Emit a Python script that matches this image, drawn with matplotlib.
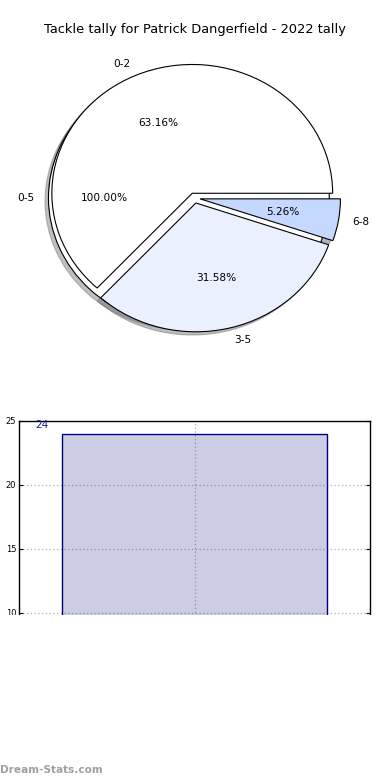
import matplotlib
matplotlib.use("Agg")
import matplotlib.pyplot as plt
from matplotlib.patches import Rectangle

# ---- data ----
title = "Tackle tally for Patrick Dangerfield - 2022 tally"
outer_labels = ["0-5"]
outer_values = [18]
inner_labels = ["0-2", "3-5", "6-8"]
inner_values = [12, 6, 1]
bar_categories = ["2022"]
bar_values = [24]
y_ticks = [10, 15, 20, 25]

W, H = 390, 780
fig = plt.figure(figsize=(W / 100, H / 100), dpi=100)

def ax_rect(x0, y_top, x1, y_bot):
    return [x0 / W, 1 - y_bot / H, (x1 - x0) / W, (y_bot - y_top) / H]

# ---- pie axes ----
ax = fig.add_axes(ax_rect(19, 37, 370, 359))
wp = dict(edgecolor="black", linewidth=0.8)
tp = dict(fontsize=7.6)
shadow = dict(ox=-0.018, oy=-0.018, shade=0.55, alpha=0.45)
ax.pie(outer_values, labels=outer_labels, colors=["white"], explode=[0.04],
       autopct="%.2f%%", shadow=shadow, wedgeprops=wp, textprops=tp)
ax.pie(inner_values, labels=inner_labels,
       colors=["white", "#EAF0FD", "#C5D8FF"], explode=[0.04, 0.04, 0.04],
       autopct="%.2f%%", shadow=shadow, wedgeprops=wp, textprops=tp)
ax.set_aspect("auto")
ax.set_xlim(-1.25, 1.25)
ax.set_ylim(-1.25, 1.25)
fig.text(0.5, 1 - 30 / H, title, ha="center", va="center", fontsize=9.4)

# ---- bar axes (lower part of the original panel is cut off at y=614) ----
bx = fig.add_axes(ax_rect(19, 421, 370, 616))
xs = list(range(len(bar_categories)))
bx.bar(xs, bar_values, width=0.8, facecolor=(0, 0, 0.5, 0.2),
       edgecolor="navy", linewidth=1.0, zorder=2)
for x, v in zip(xs, bar_values):
    bx.text(x - 0.462, v + 0.69, str(v), ha="center", va="center",
            fontsize=7.5, color="#1f1f9a")
bx.set_xlim(-0.5318, 0.5318)
bx.set_ylim(25 - 195 / 12.8, 25)
bx.set_yticks(y_ticks)
bx.set_xticks(xs)
bx.set_xticklabels([])
bx.tick_params(axis="y", direction="in", labelsize=6, length=3, right=True,
               pad=2)
bx.tick_params(axis="x", length=0)
bx.grid(True, linestyle=(0, (1, 2)), color="#b0b0b0", linewidth=0.9, zorder=0)
bx.set_axisbelow(True)
bx.set_ylabel("Tackle Count", fontsize=7)
bx.yaxis.set_label_coords(-0.058, 0.2)
for s in bx.spines.values():
    s.set_linewidth(1.0)
bx.spines["bottom"].set_visible(False)

# white cover over the cut-off part
fig.patches.append(Rectangle((0, 0), 1, 1 - 614.5 / H, transform=fig.transFigure,
                             facecolor="white", edgecolor="none", zorder=10))
fig.text(0.0, 1 - 770 / H, "Dream-Stats.com", ha="left", va="center",
         fontsize=7.6, fontweight="bold", color="#a0a0a0", zorder=11)

fig.savefig("out.png", dpi=100)
